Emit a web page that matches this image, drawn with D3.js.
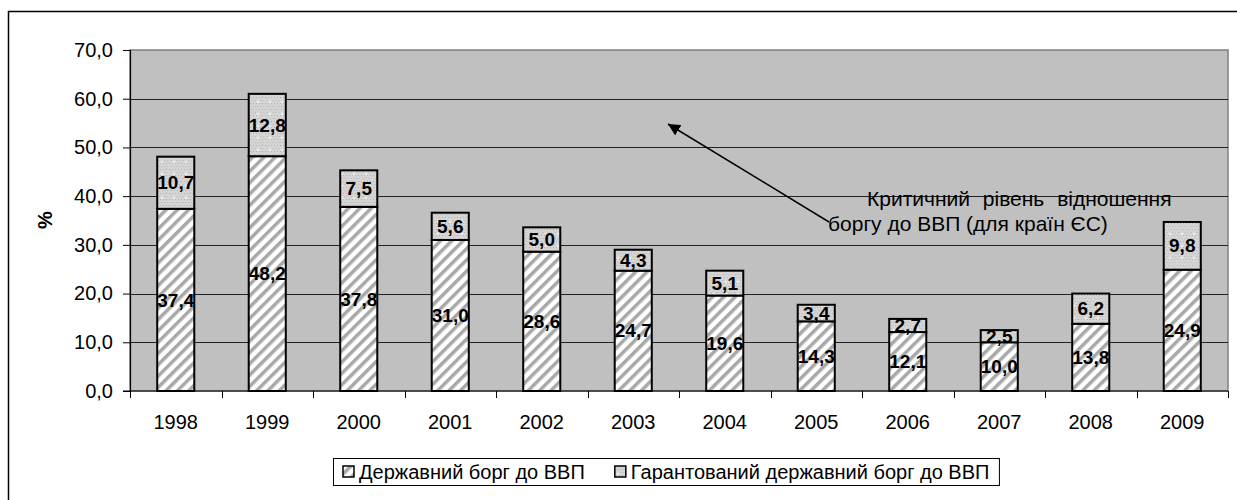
<!DOCTYPE html>
<html>
<head>
<meta charset="utf-8">
<script src="https://cdn.jsdelivr.net/npm/d3@7"></script>
<style>
  body { margin: 0; background: #fff; }
  svg { font-family: Arial, "Liberation Sans", sans-serif; }
</style>
</head>
<body>
<div id="chart"></div>
<script>
var years = ["1998","1999","2000","2001","2002","2003","2004","2005","2006","2007","2008","2009"];
var stateDebt = [37.4, 48.2, 37.8, 31.0, 28.6, 24.7, 19.6, 14.3, 12.1, 10.0, 13.8, 24.9];
var guaranteedDebt = [10.7, 12.8, 7.5, 5.6, 5.0, 4.3, 5.1, 3.4, 2.7, 2.5, 6.2, 9.8];
var yTicks = [0, 10, 20, 30, 40, 50, 60, 70];
var seriesNames = ["Державний борг до ВВП", "Гарантований державний борг до ВВП"];

var width = 1237, height = 500;
var plot = { left: 130, top: 50, right: 1228, bottom: 391 };
var FONT = 20;

var svg = d3.select("#chart").append("svg")
    .attr("width", width)
    .attr("height", height);

var defs = svg.append("defs");
var hatch = defs.append("pattern")
    .attr("id", "hatch")
    .attr("patternUnits", "userSpaceOnUse")
    .attr("width", 8).attr("height", 8)
    .attr("patternTransform", "rotate(45)");
hatch.append("rect").attr("width", 8).attr("height", 8).attr("fill", "#fff");
hatch.append("rect").attr("x", 0).attr("width", 3.5).attr("height", 8).attr("fill", "#a8a8a8");

var dots = defs.append("pattern")
    .attr("id", "dots")
    .attr("patternUnits", "userSpaceOnUse")
    .attr("width", 12).attr("height", 12);
dots.append("rect").attr("width", 12).attr("height", 12).attr("fill", "#d4d4d4");
[[1,1],[4,1],[7,1],[10,1],[2.5,4],[8.5,4],[11.5,4],[1,7],[4,7],[7,7],[10,7],[2.5,10],[5.5,10],[8.5,10],[11.5,10]].forEach(function (p) {
    dots.append("rect").attr("x", p[0]).attr("y", p[1]).attr("width", 1).attr("height", 1).attr("fill", "#b4b4b4");
});
dots.append("path").attr("d", "M6,4.5V7.5M4.5,6H7.5").attr("stroke", "#f0f0f0").attr("stroke-width", 1);

// outer chart frame (runs past the picture edge)
svg.append("rect")
    .attr("x", 8.5).attr("y", 11.5)
    .attr("width", 1260).attr("height", 520)
    .attr("fill", "none").attr("stroke", "#000").attr("stroke-width", 1.5);

var x = d3.scaleBand().domain(years).range([plot.left, plot.right]).paddingInner(0.595).paddingOuter(0.2975);
var y = d3.scaleLinear().domain([0, 70]).range([plot.bottom, plot.top]);

svg.append("rect")
    .attr("x", plot.left).attr("y", plot.top)
    .attr("width", plot.right - plot.left).attr("height", plot.bottom - plot.top)
    .attr("fill", "#c0c0c0").attr("stroke", "#808080").attr("stroke-width", 1.5);

svg.append("g").selectAll("line")
    .data(yTicks.filter(function (d) { return d > 0 && d < 70; }))
    .enter().append("line")
    .attr("x1", plot.left).attr("x2", plot.right)
    .attr("y1", function (d) { return Math.round(y(d)) + 0.5; })
    .attr("y2", function (d) { return Math.round(y(d)) + 0.5; })
    .attr("stroke", "#222").attr("stroke-width", 1);

// y axis
var yAxis = svg.append("g")
    .attr("transform", "translate(" + plot.left + ",0)")
    .call(d3.axisLeft(y).tickValues(yTicks).tickSize(7).tickPadding(10)
        .tickFormat(function (d) { return d3.format(".1f")(d).replace(".", ","); }));
yAxis.select(".domain").attr("stroke", "#000").attr("stroke-width", 1.2);
yAxis.selectAll(".tick line").attr("stroke", "#000");
yAxis.selectAll("text").attr("font-size", FONT).attr("fill", "#000").attr("font-family", "Arial, 'Liberation Sans', sans-serif");

// x axis
var xAxis = svg.append("g").attr("transform", "translate(0," + plot.bottom + ")");
xAxis.append("line").attr("x1", plot.left - 7).attr("x2", plot.right).attr("stroke", "#000").attr("stroke-width", 1.2);
var step = x.step();
xAxis.selectAll(".tk").data(d3.range(years.length + 1)).enter().append("line")
    .attr("x1", function (i) { return Math.round(plot.left + i * step) + 0.5; })
    .attr("x2", function (i) { return Math.round(plot.left + i * step) + 0.5; })
    .attr("y1", 0).attr("y2", 7).attr("stroke", "#000");
xAxis.selectAll("text").data(years).enter().append("text")
    .attr("x", function (d) { return x(d) + x.bandwidth() / 2; })
    .attr("y", 38)
    .attr("text-anchor", "middle")
    .attr("font-size", FONT)
    .text(function (d) { return d; });

svg.append("text")
    .attr("transform", "translate(52,220) rotate(-90)")
    .attr("text-anchor", "middle")
    .attr("font-size", FONT).attr("font-weight", "bold")
    .text("%");

// bars
var fmt = function (v) { return d3.format(".1f")(v).replace(".", ","); };
var bars = svg.append("g").selectAll("g").data(years).enter().append("g");
bars.append("rect")
    .attr("x", function (d) { return x(d); })
    .attr("y", function (d, i) { return y(stateDebt[i]); })
    .attr("width", x.bandwidth())
    .attr("height", function (d, i) { return y(0) - y(stateDebt[i]); })
    .attr("fill", "url(#hatch)").attr("stroke", "#000").attr("stroke-width", 2);
bars.append("rect")
    .attr("x", function (d) { return x(d); })
    .attr("y", function (d, i) { return y(stateDebt[i] + guaranteedDebt[i]); })
    .attr("width", x.bandwidth())
    .attr("height", function (d, i) { return y(stateDebt[i]) - y(stateDebt[i] + guaranteedDebt[i]); })
    .attr("fill", "url(#dots)").attr("stroke", "#000").attr("stroke-width", 2);
bars.append("text")
    .attr("x", function (d) { return x(d) + x.bandwidth() / 2; })
    .attr("y", function (d, i) { return y(stateDebt[i] / 2); })
    .attr("dy", "0.35em")
    .attr("text-anchor", "middle").attr("font-size", 19).attr("font-weight", "bold")
    .text(function (d, i) { return fmt(stateDebt[i]); });
bars.append("text")
    .attr("x", function (d) { return x(d) + x.bandwidth() / 2; })
    .attr("y", function (d, i) { return y(stateDebt[i] + guaranteedDebt[i] / 2); })
    .attr("dy", "0.35em")
    .attr("text-anchor", "middle").attr("font-size", 19).attr("font-weight", "bold")
    .text(function (d, i) { return fmt(guaranteedDebt[i]); });

// annotation
defs.append("marker")
    .attr("id", "arrow").attr("viewBox", "0 0 10 10")
    .attr("refX", 10).attr("refY", 5)
    .attr("markerWidth", 8).attr("markerHeight", 8)
    .attr("orient", "auto")
    .append("path").attr("d", "M0,0L10,5L0,10z").attr("fill", "#000");
svg.append("line")
    .attr("x1", 829).attr("y1", 222).attr("x2", 668).attr("y2", 124)
    .attr("stroke", "#000").attr("stroke-width", 1.5)
    .attr("marker-end", "url(#arrow)");
svg.append("text").attr("x", 867).attr("y", 206).attr("font-size", 21)
    .attr("word-spacing", 7)
    .text("Критичний рівень відношення");
svg.append("text").attr("x", 828).attr("y", 231).attr("font-size", 21)
    .text("боргу до ВВП (для країн ЄС)");

// legend
var lg = svg.append("g");
var box = lg.append("rect").attr("x", 333.5).attr("y", 458.5).attr("height", 27)
    .attr("fill", "#fff").attr("stroke", "#000").attr("stroke-width", 1);
var cx = 343;
seriesNames.forEach(function (name, i) {
    lg.append("rect")
        .attr("x", cx).attr("y", 466).attr("width", 11).attr("height", 11)
        .attr("fill", i === 0 ? "url(#hatch)" : "url(#dots)")
        .attr("stroke", "#000").attr("stroke-width", 1.5);
    var t = lg.append("text").attr("x", cx + 16).attr("y", 479)
        .attr("font-size", FONT).text(name);
    cx += 16 + t.node().getComputedTextLength() + 30;
});
box.attr("width", cx - 333.5 - 20);
</script>
</body>
</html>
